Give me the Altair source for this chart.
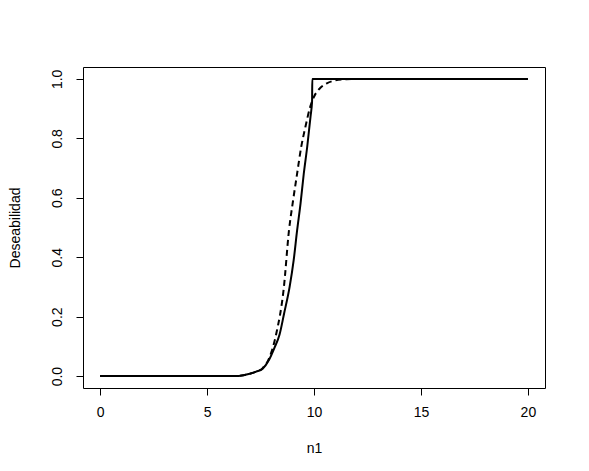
import altair as alt
import pandas as pd

# Solid curve (desirability, piecewise)
solid_x = [0, 6.3, 6.7, 7.0, 7.3, 7.6, 7.9, 8.15, 8.39, 8.6, 8.86, 9.05, 9.21, 9.37, 9.52, 9.68, 9.84, 9.91, 9.92, 20]
solid_y = [0, 0, 0.003, 0.008, 0.015, 0.025, 0.055, 0.095, 0.14, 0.21, 0.30, 0.39, 0.49, 0.58, 0.68, 0.77, 0.875, 0.925, 1.0, 1.0]

# Dashed curve (smooth approximation)
dashed_x = [0, 6.3, 6.7, 7.0, 7.3, 7.6, 7.9, 8.23, 8.59, 8.83, 9.02, 9.21, 9.4, 9.6, 9.8, 10.0, 10.3, 10.6, 11.0, 11.5, 12, 20]
dashed_y = [0, 0, 0.003, 0.008, 0.015, 0.027, 0.06, 0.141, 0.298, 0.49, 0.59, 0.681, 0.77, 0.839, 0.9, 0.94, 0.97, 0.985, 0.995, 0.999, 1.0, 1.0]

x_ticks = [0, 5, 10, 15, 20]
y_ticks = [0.0, 0.2, 0.4, 0.6, 0.8, 1.0]

W, H = 462, 321
FONT = "Liberation Sans"

df_s = pd.DataFrame({"x": solid_x, "y": solid_y, "o": range(len(solid_x))})
df_d = pd.DataFrame({"x": dashed_x, "y": dashed_y, "o": range(len(dashed_x))})

xscale = alt.Scale(domain=[-0.8, 20.8], nice=False, zero=False)
yscale = alt.Scale(domain=[-0.04, 1.04], nice=False, zero=False)

xaxis = alt.Axis(values=x_ticks, domain=False, grid=False, tickColor="black", tickSize=7,
                 labelFont=FONT, labelFontSize=14, labelColor="black", labelPadding=21,
                 labelBaseline="alphabetic", labelFlush=False,
                 title="n1", titleFont=FONT, titleFontSize=14, titleFontWeight="normal",
                 titleColor="black", titleX=W / 2, titleY=60, titleBaseline="middle", titleAlign="center")
yaxis = alt.Axis(values=y_ticks, format=".1f", domain=False, grid=False, tickColor="black", tickSize=7,
                 labelFont=FONT, labelFontSize=14, labelColor="black", labelAngle=-90,
                 labelAlign="center", labelBaseline="alphabetic", labelPadding=15, labelFlush=False,
                 title="Deseabilidad", titleFont=FONT, titleFontSize=14, titleFontWeight="normal",
                 titleColor="black", titleX=-68, titleY=H / 2, titleAngle=-90,
                 titleBaseline="middle", titleAlign="center")

solid = alt.Chart(df_s).mark_line(color="black", strokeWidth=2, interpolate="monotone").encode(
    x=alt.X("x:Q", scale=xscale, axis=xaxis),
    y=alt.Y("y:Q", scale=yscale, axis=yaxis),
    order="o:Q",
)
dashed = alt.Chart(df_d).mark_line(color="black", strokeWidth=2, strokeDash=[6, 4], interpolate="monotone").encode(
    x=alt.X("x:Q", scale=xscale),
    y=alt.Y("y:Q", scale=yscale),
    order="o:Q",
)

chart = alt.layer(solid, dashed).properties(
    width=W, height=H,
    autosize=alt.AutoSizeParams(type="none"),
    padding={"left": 75, "top": 59, "right": 20, "bottom": 70},
    background="white",
).configure_view(stroke="black", strokeWidth=1)

chart.save("out.html", embed_options={"renderer": "svg", "actions": False})
